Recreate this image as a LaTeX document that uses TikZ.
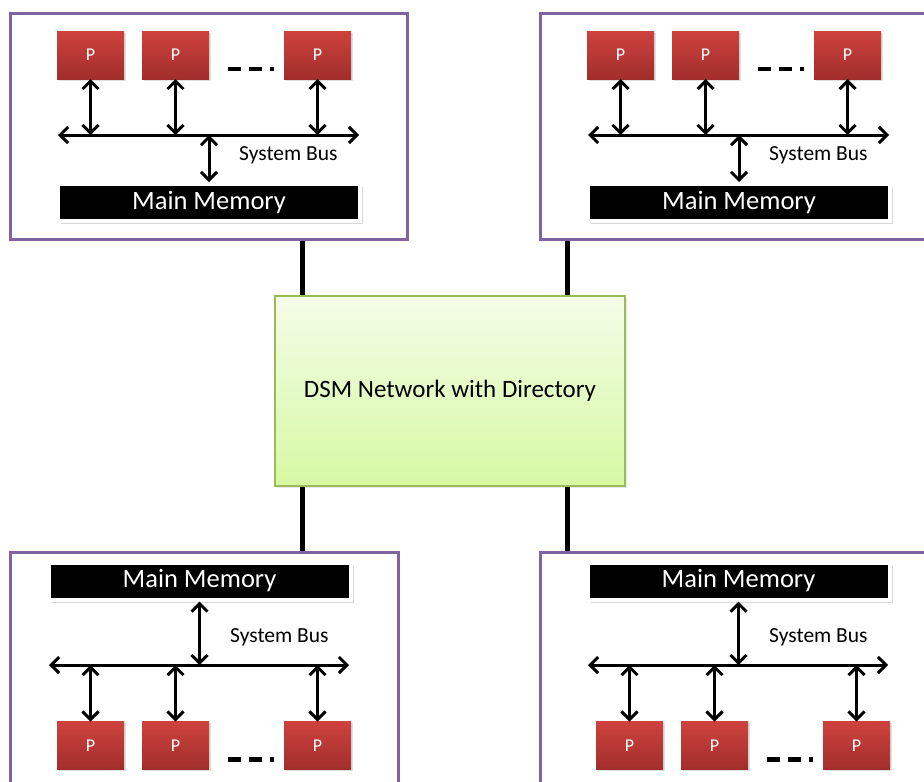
\documentclass[tikz,border=0pt]{standalone}
\usepackage{fontspec}
\setmainfont{Carlito}
\usetikzlibrary{arrows.meta, positioning, shadows}

\definecolor{clusterpurple}{HTML}{8064A2}
\definecolor{proctop}{HTML}{CE423E}
\definecolor{procbottom}{HTML}{A12E2B}
\definecolor{netborder}{HTML}{9BBB59}
\definecolor{nettop}{HTML}{F4FCE8}
\definecolor{netbottom}{HTML}{D6F9A3}

\tikzset{
  cluster/.style  = {draw=clusterpurple, line width=3pt, fill=white},
  proc/.style     = {minimum width=67pt, minimum height=48pt, inner sep=0pt, outer sep=0pt,
                     top color=proctop, bottom color=procbottom, text=white,
                     font=\fontsize{18}{20}\selectfont,
                     drop shadow={shadow xshift=1.5pt, shadow yshift=-1.5pt, opacity=.25}},
  memory/.style   = {minimum width=302pt, minimum height=37pt, inner sep=0pt,
                     fill=black, draw=white, line width=4pt, text=white,
                     font=\fontsize{26.5}{30}\selectfont,
                     drop shadow={shadow xshift=3pt, shadow yshift=-3pt, opacity=.3}},
  buslabel/.style = {font=\fontsize{21.5}{24}\selectfont, inner sep=0pt},
  network/.style  = {draw=netborder, line width=1.2pt, top color=nettop, bottom color=netbottom,
                     minimum width=350pt, minimum height=190pt,
                     font=\fontsize{25}{30}\selectfont,
                     drop shadow={shadow xshift=2pt, shadow yshift=-2pt, opacity=.2}},
  dblarrow/.style = {{Straight Barb[length=8pt,width=16pt]}-{Straight Barb[length=8pt,width=16pt]},
                     line width=3pt},
  dots/.style     = {line width=4.5pt, dash pattern=on 13pt off 8pt},
  trunk/.style    = {line width=4.5pt}
}

\begin{document}
\begin{tikzpicture}[x=1pt, y=-1pt]
    \useasboundingbox (0,0) rectangle (924,782);
    \clip (0,0) rectangle (924,782);

    % the four clusters
    \node[cluster, minimum width=397pt, minimum height=226pt] (a) at (208.5,126) {};
    \node[cluster, minimum width=397pt, minimum height=226pt] (b) at (738.5,126) {};
    \node[cluster, minimum width=388pt, minimum height=268pt] (c) at (204,686) {};
    \node[cluster, minimum width=388pt, minimum height=268pt] (d) at (734,686) {};

    % processors on top, memory below
    \foreach \c/\dx in {a/0, b/530} {
        \node[proc] (\c-p1) at (\dx+90.5,55) {P};
        \node[proc] (\c-p2) [right=18pt of \c-p1] {P};
        \node[proc] (\c-p3) [right=75pt of \c-p2] {P};
        \draw[dots] ([shift={(19pt,-14pt)}]\c-p2.east) -- ([shift={(-10pt,-14pt)}]\c-p3.west);

        \coordinate (\c-bl) at (\dx+58,135);
        \coordinate (\c-br) at (\dx+359,135);
        \draw[dblarrow] (\c-bl) -- (\c-br);
        \node[buslabel, anchor=west] (\c-sb) at (\dx+239,155) {System Bus};
        \node[memory] (\c-m) at (\dx+209,202.5) {Main Memory};

        \foreach \i in {1,2,3}
            \draw[dblarrow] (\c-p\i.south) -- (\c-p\i.south |- \c-bl);
        \draw[dblarrow] (\c-m.north) -- (\c-m.north |- \c-bl);
    }

    % memory on top, processors below
    \foreach \c/\dx in {c/0, d/539} {
        \node[memory] (\c-m) at (\dx+199.5,581) {Main Memory};
        \coordinate (\c-bl) at (\dx+49,665);
        \coordinate (\c-br) at (\dx+349,665);
        \draw[dblarrow] (\c-bl) -- (\c-br);
        \node[buslabel, anchor=west] (\c-sb) at (\dx+230,637) {System Bus};

        \node[proc] (\c-p1) at (\dx+90.5,745.5) {P};
        \node[proc] (\c-p2) [right=18pt of \c-p1] {P};
        \node[proc] (\c-p3) [right=75pt of \c-p2] {P};
        \draw[dots] ([shift={(19pt,-14pt)}]\c-p2.east) -- ([shift={(-10pt,-14pt)}]\c-p3.west);

        \foreach \i in {1,2,3}
            \draw[dblarrow] (\c-p\i.north) -- (\c-p\i.north |- \c-bl);
        \draw[dblarrow] (\c-m.south) -- (\c-m.south |- \c-bl);
    }

    % network in the middle
    \node[network] (net) at (450,391) {DSM Network with Directory};
    \coordinate (n-a) at ([xshift=28pt]net.north west);
    \coordinate (n-b) at ([xshift=-58pt]net.north east);
    \coordinate (n-c) at ([xshift=28pt]net.south west);
    \coordinate (n-d) at ([xshift=-58pt]net.south east);

    \foreach \c/\side in {a/south, b/south, c/north, d/north}
        \draw[trunk] (\c.\side -| n-\c) -- (n-\c);
\end{tikzpicture}
\end{document}
